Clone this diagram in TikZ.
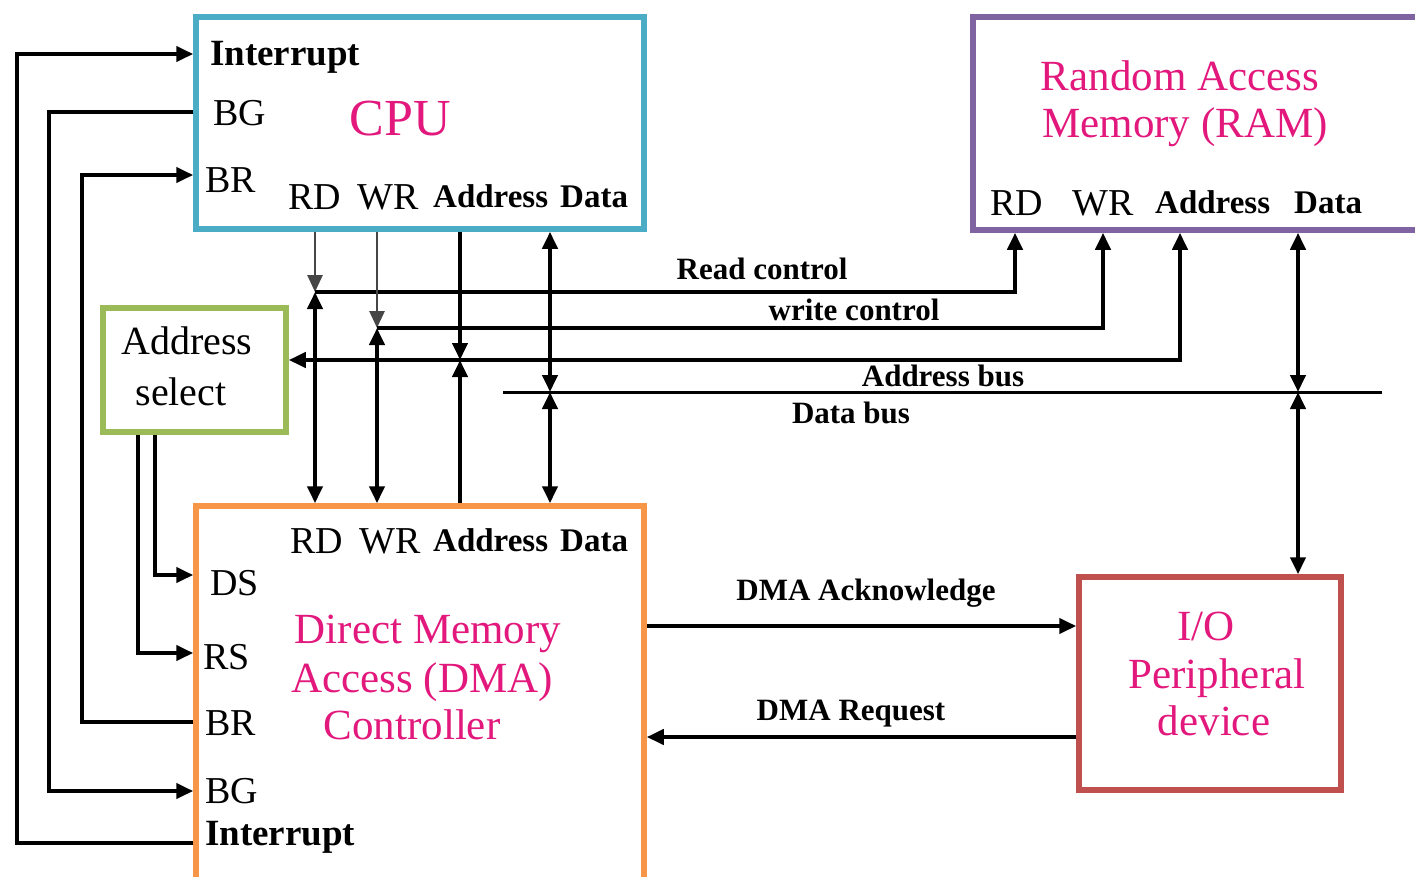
\documentclass[tikz,border=0pt]{standalone}
\usepackage{fontspec}
\setmainfont{Liberation Serif}
\usetikzlibrary{arrows.meta,calc}
\definecolor{cpuc}{RGB}{75,172,198}
\definecolor{ramc}{RGB}{128,100,162}
\definecolor{asc}{RGB}{155,187,89}
\definecolor{dmac}{RGB}{247,150,70}
\definecolor{ioc}{RGB}{192,80,77}
\definecolor{pinkc}{RGB}{226,24,124}
\definecolor{wgray}{RGB}{70,70,70}
\begin{document}
\begin{tikzpicture}[x=1pt,y=-1pt,
  >={Triangle[length=17pt,width=15pt]},
  box/.style={draw, line width=5.5pt, fill=white, inner sep=0pt},
  lab/.style={font=\fontsize{38}{40}\selectfont, inner sep=0pt, anchor=base west},
  labi/.style={font=\fontsize{37}{40}\selectfont\bfseries, inner sep=0pt, anchor=base west},
  labb/.style={font=\fontsize{33}{35}\selectfont\bfseries, inner sep=0pt, anchor=base west},
  ttl/.style={font=\fontsize{43}{46}\selectfont, text=pinkc, inner sep=0pt, anchor=base},
  bus/.style={font=\fontsize{31}{33}\selectfont\bfseries, inner sep=0pt, anchor=base},
  wire/.style={line width=4pt},
  thinw/.style={line width=2.8pt, draw=wgray}]
\clip (0,0) rectangle (1415,876);
\fill[white] (0,0) rectangle (1415,876);

% boxes
\node[box, draw=cpuc, minimum width=448pt, minimum height=212pt] (cpu) at (420,123) {};
\node[box, draw=ramc, minimum width=457pt, minimum height=213pt] (ram) at (1201.5,123.5) {};
\node[box, draw=asc, minimum width=183pt, minimum height=124pt] (as) at (194.5,370) {};
\node[box, draw=dmac, minimum width=448pt, minimum height=394pt] (dma) at (420,703) {};
\node[box, draw=ioc, minimum width=262pt, minimum height=213pt] (io) at (1210,683.5) {};

% CPU texts
\node[labi] (cpuInt) at (210,65) {Interrupt};
\node[lab] (cpuBG) at (213,125) {BG};
\node[lab] (cpuBR) at (205,192) {BR};
\node[lab] (cpuRD) at (288,209) {RD};
\node[lab] (cpuWR) at (357,209) {WR};
\node[labb] (cpuAd) at (433,207) {Address};
\node[labb] (cpuDa) at (560,207) {Data};
\node[ttl, font=\fontsize{52}{54}\selectfont] (cpuT) at (400,135) {CPU};

% RAM texts
\node[ttl] (ramT1) at (1180,90) {Random Access};
\node[ttl] (ramT2) at (1185,137) {Memory (RAM)};
\node[lab] (ramRD) at (990,215) {RD};
\node[lab] (ramWR) at (1072,215) {WR};
\node[labb] (ramAd) at (1155,213) {Address};
\node[labb] (ramDa) at (1294,213) {Data};

% Address select texts
\node[ttl, text=black, font=\fontsize{40}{42}\selectfont] (asT1) at (187,354) {Address};
\node[ttl, text=black, font=\fontsize{40}{42}\selectfont] (asT2) at (181,405) {select};

% DMA texts
\node[lab] (dmaRD) at (290,553) {RD};
\node[lab] (dmaWR) at (359,553) {WR};
\node[labb] (dmaAd) at (433,551) {Address};
\node[labb] (dmaDa) at (560,551) {Data};
\node[lab] (dmaDS) at (210,595) {DS};
\node[lab] (dmaRS) at (203,669) {RS};
\node[lab] (dmaBR) at (205,735) {BR};
\node[lab] (dmaBG) at (205,803) {BG};
\node[labi] (dmaInt) at (205,845) {Interrupt};
\node[ttl] (dmaT1) at (428,643) {Direct Memory};
\node[ttl] (dmaT2) at (422,692) {Access (DMA)};
\node[ttl] (dmaT3) at (412,739) {Controller};

% IO texts
\node[ttl] (ioT1) at (1206,640) {I/O};
\node[ttl] (ioT2) at (1217,688) {Peripheral};
\node[ttl] (ioT3) at (1214,735) {device};

% bus labels
\node[bus] (lRC) at (762,279) {Read control};
\node[bus] (lWC) at (854,320) {write control};
\node[bus] (lAB) at (943,386) {Address bus};
\node[bus] (lDB) at (851,423) {Data bus};
\node[bus] (lAck) at (866,600) {DMA Acknowledge};
\node[bus] (lReq) at (851,720) {DMA Request};

% coordinates
\coordinate (yCInt) at (0,54);
\coordinate (yCBG) at (0,112);
\coordinate (yCBR) at (0,175);
\coordinate (yDDS) at (0,575);
\coordinate (yDRS) at (0,653);
\coordinate (yDBR) at (0,722);
\coordinate (yDBG) at (0,791);
\coordinate (yDInt) at (0,843);
\coordinate (xI) at (17,0);
\coordinate (xG) at (49,0);
\coordinate (xR) at (82,0);
\coordinate (xS) at (138,0);
\coordinate (xD) at (155,0);
\coordinate (rc) at (315,292);
\coordinate (wc) at (377,328);
\coordinate (ab) at (460,360);
\coordinate (db) at (550,392);
\coordinate (rcR) at (1015,292);
\coordinate (wcR) at (1103,328);
\coordinate (abR) at (1180,360);
\coordinate (dbR) at (1298,392);
\coordinate (dbL) at (503,392);
\coordinate (dbE) at (1382,392);
\coordinate (yAck) at (0,626);
\coordinate (yReq) at (0,737);

% left connectors
\draw[wire,->] (dma.west |- yDInt) -- (xI |- yDInt) -- (xI |- yCInt) -- (cpu.west |- yCInt);
\draw[wire,->] (cpu.west |- yCBG) -- (xG |- yCBG) -- (xG |- yDBG) -- (dma.west |- yDBG);
\draw[wire,->] (dma.west |- yDBR) -- (xR |- yDBR) -- (xR |- yCBR) -- (cpu.west |- yCBR);
\draw[wire,->] (as.south -| xD) -- (xD |- yDDS) -- (dma.west |- yDDS);
\draw[wire,->] (as.south -| xS) -- (xS |- yDRS) -- (dma.west |- yDRS);

% control and buses
\draw[thinw,->] (cpu.south -| rc) -- (rc);
\draw[wire,<->] (rc) -- (dma.north -| rc);
\draw[wire,->] (rc) -- (rcR) -- (ram.south -| rcR);
\draw[thinw,->] (cpu.south -| wc) -- (wc);
\draw[wire,<->] (wc) -- (dma.north -| wc);
\draw[wire,->] (wc) -- (wcR) -- (ram.south -| wcR);
\draw[wire,->] (cpu.south -| ab) -- (ab);
\draw[wire,->] (dma.north -| ab) -- (ab);
\draw[wire,<->] (as.east |- ab) -- (abR) -- (ram.south -| abR);
\draw[wire,<->] (cpu.south -| db) -- (db);
\draw[wire,<->] (db) -- (dma.north -| db);
\draw[line width=3pt] (dbL) -- (dbE);
\draw[wire,<->] (ram.south -| dbR) -- (dbR);
\draw[wire,<->] (dbR) -- (io.north -| dbR);

% DMA <-> IO
\draw[wire,->] (dma.east |- yAck) -- (io.west |- yAck);
\draw[wire,->] (io.west |- yReq) -- (dma.east |- yReq);
\end{tikzpicture}
\end{document}
